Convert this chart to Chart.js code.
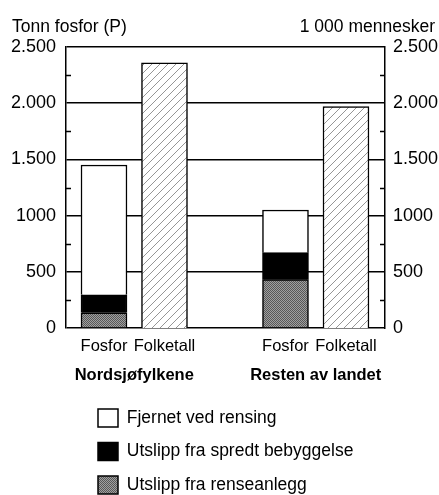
<!DOCTYPE html>
<html><head><meta charset="utf-8">
<script src="https://cdn.jsdelivr.net/npm/chart.js@4.4.1/dist/chart.umd.min.js"></script>
<style>html,body{margin:0;padding:0;background:#fff}canvas{display:block}</style>
</head><body>
<canvas id="c" width="439" height="495"></canvas>
<script>
// ---- data ----
const barLabels = ['Fosfor', 'Folketall', 'Fosfor', 'Folketall'];
const barSlots = [0, 1, 3, 4];
const groupLabels = ['Nordsjøfylkene', 'Resten av landet'];
const groupSlots = [0.5, 3.5];
const renseanlegg = [135, 430];   // Utslipp fra renseanlegg
const spredt = [160, 240];        // Utslipp fra spredt bebyggelse
const fjernet = [1155, 380];      // Fjernet ved rensing
const folketall = [2360, 1970];   // 1 000 mennesker
const yTickLabels = ['0', '500', '1000', '1.500', '2.000', '2.500'];
const seriesNames = ['Utslipp fra renseanlegg', 'Utslipp fra spredt bebyggelse', 'Fjernet ved rensing', 'Folketall'];
const leftTitle = 'Tonn fosfor (P)';
const rightTitle = '1 000 mennesker';

const FONT = '"Liberation Sans", Arial, Helvetica, sans-serif';

function makePattern(size, draw) {
  const c = document.createElement('canvas');
  c.width = size; c.height = size;
  const g = c.getContext('2d');
  draw(g, size);
  return g.createPattern(c, 'repeat');
}
const grayDither = makePattern(2, (g) => {
  g.fillStyle = '#a0a0a0'; g.fillRect(0, 0, 2, 2);
  g.fillStyle = '#585858'; g.fillRect(0, 0, 1, 1); g.fillRect(1, 1, 1, 1);
});
const hatch = makePattern(8, (g, s) => {
  g.fillStyle = '#ffffff'; g.fillRect(0, 0, s, s);
  g.strokeStyle = '#8a8a8a'; g.lineWidth = 0.9;
  g.beginPath();
  g.moveTo(0, s); g.lineTo(s, 0);
  g.moveTo(-1, 1); g.lineTo(1, -1);
  g.moveTo(s - 1, s + 1); g.lineTo(s + 1, s - 1);
  g.stroke();
});

const fosforX = [barSlots[0], barSlots[2]];
const folkX = [barSlots[1], barSlots[3]];
const pts = (xs, ys) => xs.map((x, i) => ({ x, y: ys[i] }));

const xMin = -0.628, xMax = 4.645;

const minorTicks = {
  id: 'minorTicks',
  afterDatasetsDraw(chart) {
    const y = chart.scales.y;
    const { left, right } = chart.chartArea;
    const ctx = chart.ctx;
    ctx.save();
    ctx.strokeStyle = '#000';
    ctx.lineWidth = 1.3;
    ctx.beginPath();
    y.ticks.forEach(t => {
      if (t.value % 500 !== 0) {
        const py = Math.round(y.getPixelForValue(t.value)) + 0.5;
        ctx.moveTo(left, py); ctx.lineTo(left + 5, py);
        ctx.moveTo(right - 5, py); ctx.lineTo(right, py);
      }
    });
    ctx.stroke();
    ctx.restore();
  }
};

const topTitles = {
  id: 'topTitles',
  afterDraw(chart) {
    const ctx = chart.ctx;
    ctx.save();
    ctx.fillStyle = '#000';
    ctx.font = '17.5px ' + FONT;
    ctx.textBaseline = 'alphabetic';
    ctx.textAlign = 'left';
    ctx.fillText(leftTitle, 12, 32);
    ctx.textAlign = 'right';
    ctx.fillText(rightTitle, 435, 32);
    ctx.restore();
  }
};

const legendPlace = {
  id: 'legendPlace',
  afterLayout(chart) {
    const lg = chart.legend;
    if (!lg) return;
    lg.left = 82.5; lg.top = 393.5; lg.right = 439; lg.bottom = 700;
    lg.width = lg.right - lg.left; lg.height = lg.bottom - lg.top;
  }
};

new Chart(document.getElementById('c'), {
  type: 'bar',
  data: {
    datasets: [
      { label: seriesNames[0], data: pts(fosforX, renseanlegg), backgroundColor: grayDither, yAxisID: 'y' },
      { label: seriesNames[1], data: pts(fosforX, spredt), backgroundColor: '#000000', yAxisID: 'y' },
      { label: seriesNames[2], data: pts(fosforX, fjernet), backgroundColor: '#ffffff', yAxisID: 'y' },
      { label: seriesNames[3], data: pts(folkX, folketall), backgroundColor: hatch, yAxisID: 'y2' }
    ]
  },
  options: {
    responsive: false,
    animation: false,
    devicePixelRatio: 1,
    layout: { padding: { top: 47, left: 0, right: 0, bottom: 0 } },
    datasets: { bar: { barThickness: 46, borderColor: '#000', borderWidth: 1.5 } },
    plugins: {
      tooltip: { enabled: false },
      legend: {
        position: 'chartArea',
        align: 'start',
        reverse: true,
        labels: {
          filter: (it) => it.datasetIndex !== 3,
          boxWidth: 20, boxHeight: 18, padding: 15.5,
          color: '#000',
          font: { family: FONT, size: 17.5 }
        }
      }
    },
    scales: {
      x: {
        type: 'linear', position: 'bottom', weight: 1, offset: false,
        min: xMin, max: xMax, stacked: true,
        grid: { display: false, drawTicks: false },
        border: { display: false },
        afterBuildTicks: (s) => { s.ticks = barSlots.map(v => ({ value: v })); },
        ticks: {
          autoSkip: false, maxRotation: 0, padding: 9, color: '#000',
          font: { family: FONT, size: 16.5 },
          callback: (v) => barLabels[barSlots.indexOf(v)]
        },
        afterFit: (s) => { s.height = 30; }
      },
      x2: {
        type: 'linear', position: 'bottom', weight: 2, offset: false,
        min: xMin, max: xMax,
        grid: { display: false, drawTicks: false },
        border: { display: false },
        afterBuildTicks: (s) => { s.ticks = groupSlots.map(v => ({ value: v })); },
        ticks: {
          autoSkip: false, maxRotation: 0, padding: 8, color: '#000',
          font: { family: FONT, size: 16.5, weight: 'bold' },
          callback: (v) => groupLabels[groupSlots.indexOf(v)]
        },
        afterFit: (s) => { s.height = 137; }
      },
      y: {
        type: 'linear', position: 'left', min: 0, max: 2500, stacked: true,
        ticks: {
          stepSize: 250, autoSkip: false, padding: 10, color: '#000',
          font: { family: FONT, size: 18 },
          callback: (v) => (v % 500 === 0 ? yTickLabels[v / 500] : '')
        },
        grid: {
          drawTicks: false, lineWidth: 1.5,
          color: (c) => (c.tick && c.tick.value % 500 === 0 ? '#000' : 'rgba(0,0,0,0)')
        },
        border: { display: true, color: '#000', width: 1.5 },
        afterFit: (s) => { s.width = 66; }
      },
      y2: {
        type: 'linear', position: 'right', min: 0, max: 2500, stacked: true,
        ticks: {
          stepSize: 250, autoSkip: false, padding: 8, color: '#000',
          font: { family: FONT, size: 18 },
          callback: (v) => (v % 500 === 0 ? yTickLabels[v / 500] : '')
        },
        grid: { display: false, drawTicks: false },
        border: { display: true, color: '#000', width: 1.5 },
        afterFit: (s) => { s.width = 54; }
      }
    }
  },
  plugins: [minorTicks, topTitles, legendPlace]
});
</script>
</body></html>
